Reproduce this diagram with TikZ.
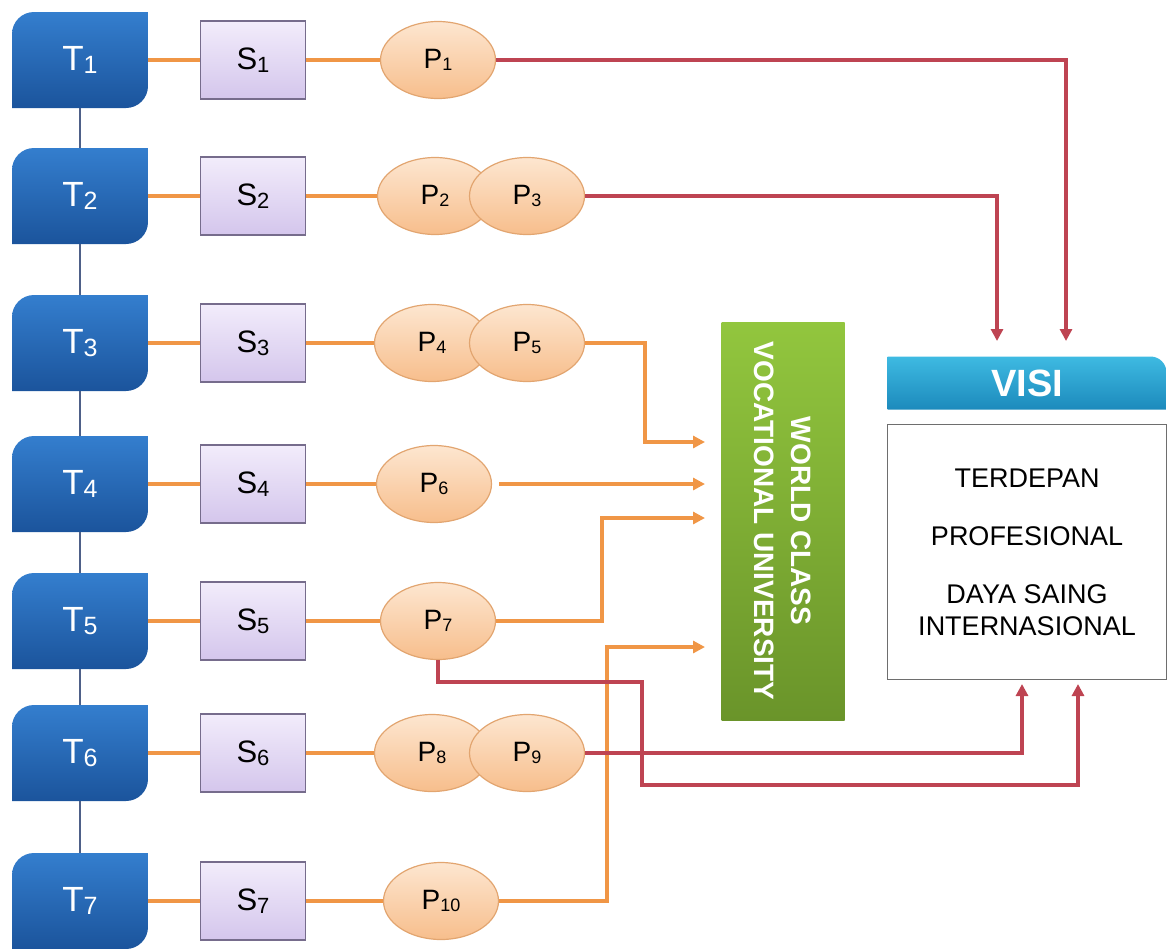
\documentclass[tikz,border=0pt]{standalone}
\usepackage{fontspec}
\setmainfont{Liberation Sans}
\usetikzlibrary{arrows.meta,shapes.geometric,calc}
\definecolor{tTop}{RGB}{52,126,206}
\definecolor{tBot}{RGB}{27,84,156}
\definecolor{lavTop}{RGB}{242,236,251}
\definecolor{lavBot}{RGB}{212,198,236}
\definecolor{lavBorder}{RGB}{118,108,140}
\definecolor{peachTop}{RGB}{253,230,208}
\definecolor{peachBot}{RGB}{247,190,140}
\definecolor{peachBorder}{RGB}{226,165,112}
\definecolor{lineOrange}{RGB}{240,150,70}
\definecolor{lineRed}{RGB}{190,68,82}
\definecolor{gTop}{RGB}{146,198,62}
\definecolor{gBot}{RGB}{106,148,42}
\definecolor{vTop}{RGB}{62,186,226}
\definecolor{vBot}{RGB}{28,138,188}
\definecolor{tLine}{RGB}{78,96,136}
\definecolor{boxBorder}{RGB}{110,110,110}
\newcommand\tsub[1]{\raisebox{-1.5pt}{\fontsize{12.5}{12.5}\selectfont #1}}
\newcommand\ssub[1]{\raisebox{-1.5pt}{\fontsize{11}{11}\selectfont #1}}
\newcommand\psub[1]{\raisebox{-1pt}{\fontsize{9}{9}\selectfont #1}}
\begin{document}
\begin{tikzpicture}[x=0.5pt,y=0.5pt,
  tbox/.style={minimum width=68pt, minimum height=48pt, inner sep=0pt, text=white,
    font=\fontsize{17.5}{20}\selectfont,
    path picture={\shade[top color=tTop,bottom color=tBot]
      (path picture bounding box.south west)
      -- ([yshift=-11pt]path picture bounding box.north west)
      arc[start angle=180,end angle=90,radius=11pt]
      -- (path picture bounding box.north east)
      -- ([yshift=11pt]path picture bounding box.south east)
      arc[start angle=0,end angle=-90,radius=11pt]
      -- cycle;}},
  sbox/.style={draw=lavBorder, line width=0.8pt, top color=lavTop, bottom color=lavBot,
    minimum width=52.5pt, minimum height=39pt, inner sep=0pt,
    font=\fontsize{15.5}{18}\selectfont},
  pell/.style={ellipse, draw=peachBorder, line width=0.6pt, top color=peachTop,
    bottom color=peachBot, minimum width=57.5pt, minimum height=38.5pt, inner sep=0pt,
    font=\fontsize{14}{16}\selectfont},
  oline/.style={draw=lineOrange, line width=2pt},
  oarrow/.style={oline, -{Triangle[length=6pt,width=6pt]}},
  rarrow/.style={draw=lineRed, line width=2pt, -{Triangle[length=6pt,width=6pt]}},
  tline/.style={draw=tLine, line width=1pt},
  gbox/.style={top color=gTop, bottom color=gBot, minimum width=61.5pt,
    minimum height=199pt, inner sep=0pt},
  visihead/.style={minimum width=139.5pt, minimum height=26.5pt, inner sep=0pt,
    text=white, font=\bfseries\fontsize{19}{22}\selectfont,
    path picture={\shade[top color=vTop,bottom color=vBot]
      (path picture bounding box.south west)
      -- (path picture bounding box.north west)
      -- ([xshift=-8pt]path picture bounding box.north east)
      arc[start angle=90,end angle=0,radius=8pt]
      -- (path picture bounding box.south east)
      -- cycle;}},
  visibox/.style={draw=boxBorder, line width=0.7pt, fill=white, minimum width=139.5pt,
    minimum height=127.5pt, align=center, font=\fontsize{13.5}{16}\selectfont}
]
\useasboundingbox (0,0) rectangle (1171,-948);

% T and S nodes
\foreach \i/\y in {1/60,2/196,3/343,4/484,5/621,6/753,7/901}{
  \node[tbox] (T\i) at (80,-\y) {T\tsub{\i}};
  \node[sbox] (S\i) at (253,-\y) {S\ssub{\i}};
}

% P nodes
\node[pell] (P1) at (438,-60) {P\psub{1}};
\node[pell] (P2) at (435,-196) {P\psub{2}};
\node[pell] (P3) at (527,-196) {P\psub{3}};
\node[pell] (P4) at (432,-343) {P\psub{4}};
\node[pell] (P5) at (527,-343) {P\psub{5}};
\node[pell] (P6) at (434,-484) {P\psub{6}};
\node[pell] (P7) at (438,-621) {P\psub{7}};
\node[pell] (P8) at (432,-753) {P\psub{8}};
\node[pell] (P9) at (527,-753) {P\psub{9}};
\node[pell] (P10) at (441,-901) {P\psub{10}};

% Green box
\node[gbox] (wcu) at (783,-521) {};
\node[rotate=-90, align=center, text=white, font=\bfseries\fontsize{14}{18.5}\selectfont]
  (wcutext) at (wcu.center) {WORLD CLASS\\VOCATIONAL UNIVERSITY};

% VISI
\node[visihead] (visi) at (1027,-383) {VISI};
\node[visibox] (vbox) at (1027,-552)
  {TERDEPAN\\[13pt]PROFESIONAL\\[13pt]DAYA SAING\\INTERNASIONAL};

% T chain
\foreach \i/\j in {1/2,2/3,3/4,4/5,5/6,6/7}{
  \draw[tline] (T\i.south) -- (T\j.north);
}
% T-S connectors
\foreach \i in {1,...,7}{
  \draw[oline] (T\i.east) -- (S\i.west);
}
% S-P connectors
\draw[oline] (S1.east) -- (P1.west);
\draw[oline] (S2.east) -- (P2.west);
\draw[oline] (S3.east) -- (P4.west);
\draw[oline] (S4.east) -- (P6.west);
\draw[oline] (S5.east) -- (P7.west);
\draw[oline] (S6.east) -- (P8.west);
\draw[oline] (S7.east) -- (P10.west);

% arrow targets
\coordinate (g1) at (705,-442);
\coordinate (g2) at (705,-484);
\coordinate (g3) at (705,-518);
\coordinate (g4) at (705,-647);
\coordinate (a1) at (1066,-341);
\coordinate (a2) at (997,-341);
\coordinate (b1) at (1022,-684);
\coordinate (b2) at (1078,-684);

% orange arrows to WCU
\draw[oarrow] (P5.east) -| ($(g1)+(-60,0)$) -- (g1);
\draw[oarrow, shorten <=3.5pt] (P6.east) -- (g2);
\draw[oarrow] (P7.east) -| ($(g3)+(-103,0)$) -- (g3);
\draw[oarrow] (P10.east) -| ($(g4)+(-98,0)$) -- (g4);

% red arrows to VISI
\draw[rarrow] (P1.east) -| (a1);
\draw[rarrow] (P3.east) -| (a2);
\draw[rarrow] (P7.south) |- (642,-682) |- ($(b2)+(0,-101)$) -- (b2);
\draw[rarrow] (P9.east) -| (b1);
\end{tikzpicture}
\end{document}
